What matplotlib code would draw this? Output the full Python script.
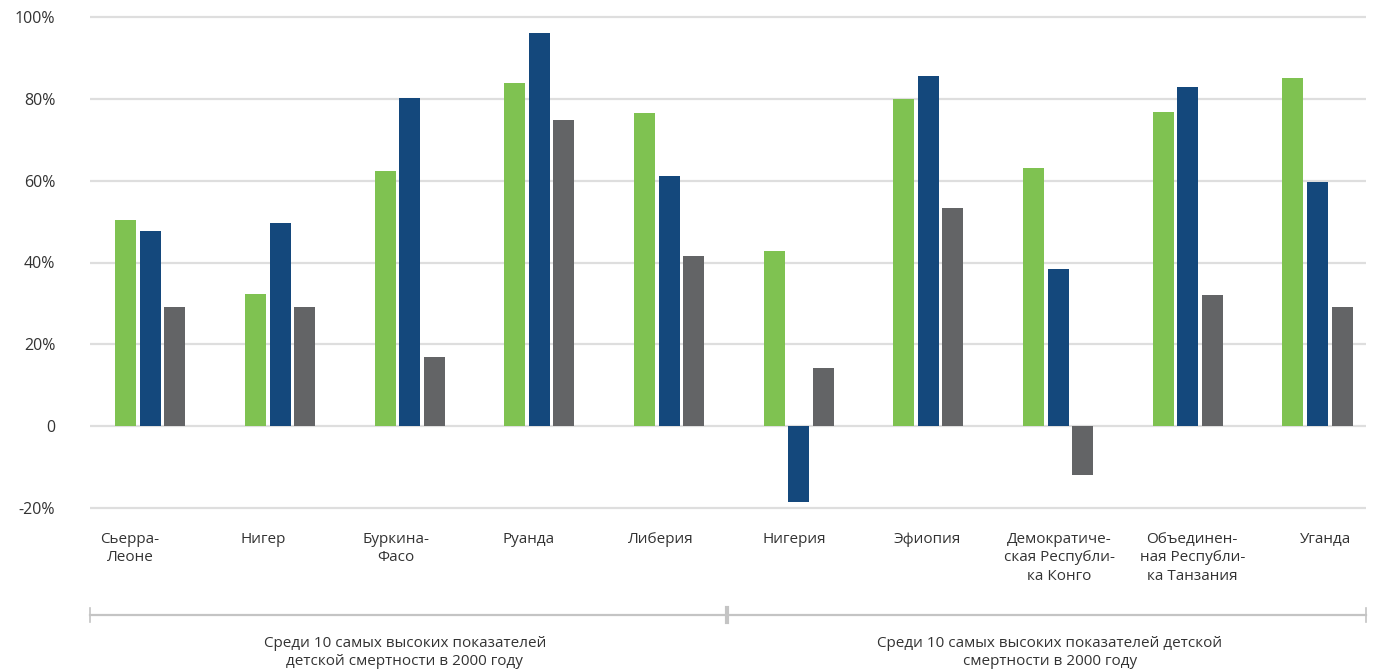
import matplotlib
matplotlib.use("Agg")
import matplotlib.pyplot as plt
import numpy as np
from matplotlib.lines import Line2D
from matplotlib.transforms import blended_transform_factory

countries = [
    "Сьерра-\nЛеоне", "Нигер", "Буркина-\nФасо", "Руанда", "Либерия",
    "Нигерия", "Эфиопия", "Демократиче-\nская Республи-\nка Конго",
    "Объединен-\nная Республи-\nка Танзания", "Уганда",
]
green_vals = [50.4, 32.4, 62.4, 83.8, 76.5, 42.8, 79.9, 63.1, 76.7, 85.0]
blue_vals = [47.7, 49.7, 80.2, 96.0, 61.1, -18.5, 85.5, 38.5, 82.8, 59.7]
gray_vals = [29.2, 29.2, 17.0, 74.8, 41.6, 14.3, 53.3, -12.0, 32.1, 29.2]
y_ticks = [-20, 0, 20, 40, 60, 80, 100]
y_tick_labels = ["-20%", "0", "20%", "40%", "60%", "80%", "100%"]
group_labels = [
    "Среди 10 самых высоких показателей\nдетской смертности в 2000 году",
    "Среди 10 самых высоких показателей детской\nсмертности в 2000 году",
]

GREEN = "#7fc251"
BLUE = "#14487c"
GRAY = "#636466"
GRID = "#dedede"
TEXT = "#333333"

plt.rcParams["font.family"] = ["Open Sans", "DejaVu Sans"]

W, H = 1376, 670
fig = plt.figure(figsize=(W / 100, H / 100), dpi=100)

# axes placement in pixels (y from top)
ymin, ymax = -21, 101
px_per_unit = (508 - 17) / 120
top_px = 17 - (ymax - 100) * px_per_unit
bot_px = 508 + (-20 - ymin) * px_per_unit
left_px, right_px = 90, 1366
ax = fig.add_axes([left_px / W, 1 - bot_px / H,
                   (right_px - left_px) / W, (bot_px - top_px) / H])

x = np.arange(len(countries))
bw = 0.162
step = 0.189
ax.bar(x - step, green_vals, bw, color=GREEN, zorder=3)
ax.bar(x, blue_vals, bw, color=BLUE, zorder=3)
ax.bar(x + step, gray_vals, bw, color=GRAY, zorder=3)

ax.set_xlim(-0.466, 9.374)
ax.set_ylim(ymin, ymax)
for t in y_ticks:
    ax.axhline(t, color=GRID, lw=1.6, zorder=1)

ax.set_yticks(y_ticks)
ax.set_yticklabels(y_tick_labels, fontsize=11.5, color=TEXT)
ax.tick_params(axis="y", length=0, pad=25)
ax.set_xticks([])
for s in ax.spines.values():
    s.set_visible(False)

# category labels, laid out on their own evenly spaced slots
trans = blended_transform_factory(ax.transData, fig.transFigure)
label_x = -0.158 + x * 1.024
for xi, name in zip(label_x, countries):
    ax.text(xi, 1 - 532 / H, name, transform=trans, ha="center", va="top",
            fontsize=11, color=TEXT, linespacing=1.3)

# bracket under the categories
bracket_y = 1 - 615 / H
bcol = "#c4c4c4"
x_mid = 4.5 - 0.05
fig.add_artist(Line2D([left_px / W, right_px / W], [bracket_y, bracket_y],
                      color=bcol, lw=1.6))
for xp, lw in [(left_px / W, 1.2), (right_px / W, 1.2)]:
    fig.add_artist(Line2D([xp, xp], [bracket_y - 7 / H, bracket_y + 7 / H],
                          color=bcol, lw=lw))
ax.add_line(Line2D([x_mid, x_mid], [bracket_y - 7 / H, bracket_y + 7 / H],
                   transform=trans, color=bcol, lw=3, clip_on=False))

mid_fig = trans.transform((x_mid, 0))[0] / W
fig.text((left_px / W + mid_fig) / 2 - 4 / W, 1 - 636 / H, group_labels[0],
         ha="center", va="top", fontsize=11, color=TEXT, linespacing=1.3)
fig.text((right_px / W + mid_fig) / 2 + 3 / W, 1 - 636 / H, group_labels[1],
         ha="center", va="top", fontsize=11, color=TEXT, linespacing=1.3)

fig.savefig("out.png", dpi=100, facecolor="white")
